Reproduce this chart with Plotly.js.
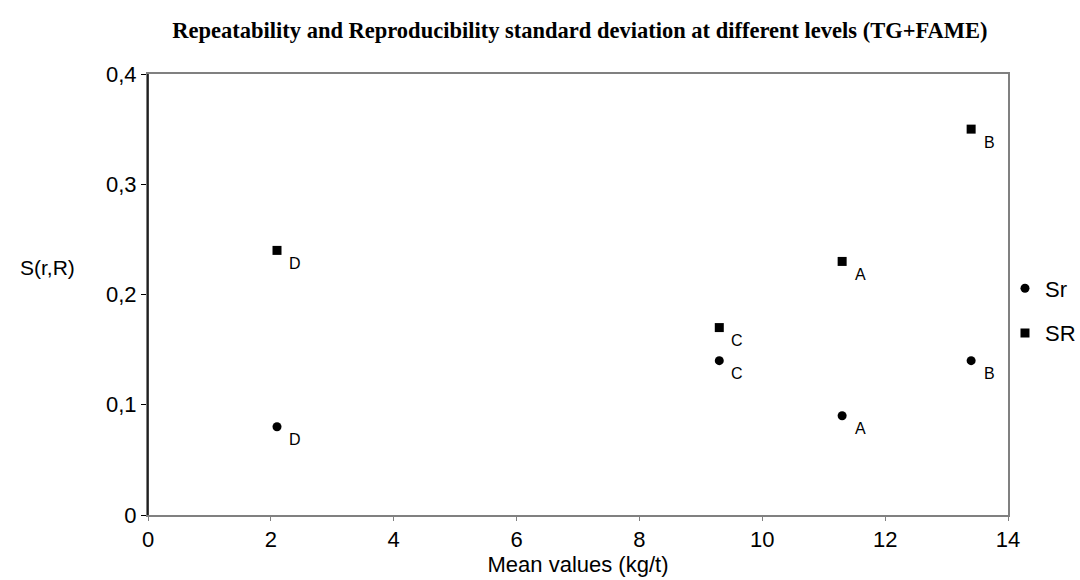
<!DOCTYPE html>
<html>
<head>
<meta charset="utf-8">
<script src="https://cdn.plot.ly/plotly-3.0.1.min.js"></script>
<style>html,body{margin:0;padding:0;background:#fff;}#chart{width:1080px;height:580px;}</style>
</head>
<body>
<div id="chart"></div>
<script>
const levels = ['D', 'C', 'A', 'B'];
const meanValues = [2.1, 9.3, 11.3, 13.4];
const srValues = [0.08, 0.14, 0.09, 0.14];     // Sr (repeatability)
const bigSRValues = [0.24, 0.17, 0.23, 0.35];  // SR (reproducibility)
const xTicks = [0, 2, 4, 6, 8, 10, 12, 14];
const yTicks = [0, 0.1, 0.2, 0.3, 0.4];
const yTickLabels = ['0', '0,1', '0,2', '0,3', '0,4'];

const font = 'Liberation Sans, Arial, sans-serif';

const traces = [
  {
    x: meanValues, y: srValues, name: 'Sr', type: 'scatter', mode: 'markers',
    marker: {symbol: 'circle', size: 9, color: '#000'},
    legendgroup: 'a', cliponaxis: false
  },
  {
    x: meanValues, y: bigSRValues, name: 'SR', type: 'scatter', mode: 'markers',
    marker: {symbol: 'square', size: 9, color: '#000'},
    legendgroup: 'b', cliponaxis: false
  }
];

const annotations = [];
[srValues, bigSRValues].forEach(arr => {
  arr.forEach((v, i) => {
    annotations.push({
      x: meanValues[i], y: v, xref: 'x', yref: 'y', text: levels[i],
      showarrow: false, xanchor: 'center', yanchor: 'middle',
      xshift: 18, yshift: -13,
      font: {family: font, size: 16, color: '#000'}
    });
  });
});
annotations.push({
  xref: 'paper', yref: 'paper', x: -0.151, y: 0.562, xanchor: 'left', yanchor: 'middle',
  text: 'S(r,R)', showarrow: false, font: {family: font, size: 21, color: '#000'}
});

const layout = {
  width: 1080, height: 580,
  margin: {l: 148, r: 72, t: 74, b: 65, autoexpand: false},
  paper_bgcolor: '#fff', plot_bgcolor: '#fff',
  separators: ',.',
  title: {
    text: '<b>Repeatability and Reproducibility standard deviation at different levels (TG+FAME)</b>',
    font: {family: 'Liberation Serif, Times New Roman, serif', size: 22.5, color: '#000'},
    x: 0.537, xanchor: 'center', y: 0.948, yanchor: 'middle'
  },
  xaxis: {
    range: [0, 14], tickvals: xTicks, ticktext: xTicks.map(String),
    showgrid: false, zeroline: false,
    showline: true, linecolor: '#808080', linewidth: 2, mirror: true,
    ticks: 'outside', ticklen: 4, tickcolor: '#808080',
    tickfont: {family: font, size: 22, color: '#000'},
    title: {text: 'Mean values (kg/t)', font: {family: font, size: 22, color: '#000'}, standoff: 4}
  },
  yaxis: {
    range: [0, 0.4], tickvals: yTicks, ticktext: yTickLabels,
    showgrid: false, zeroline: false,
    showline: true, linecolor: '#808080', linewidth: 2, mirror: true,
    ticks: 'outside', ticklen: 5, tickcolor: '#000',
    tickfont: {family: font, size: 22, color: '#000'}
  },
  showlegend: true,
  legend: {
    x: 0.9965, xanchor: 'left', y: 0.4626, yanchor: 'middle',
    font: {family: font, size: 22, color: '#000'},
    traceorder: 'grouped', tracegroupgap: 13,
    itemwidth: 30, bgcolor: 'rgba(0,0,0,0)'
  },
  annotations: annotations,
  shapes: [
    {type: 'line', xref: 'paper', yref: 'paper', x0: 0, x1: 0, y0: 0, y1: 1, line: {color: '#000', width: 1.5}}
  ]
};

Plotly.newPlot('chart', traces, layout, {displayModeBar: false, staticPlot: true});
</script>
</body>
</html>
